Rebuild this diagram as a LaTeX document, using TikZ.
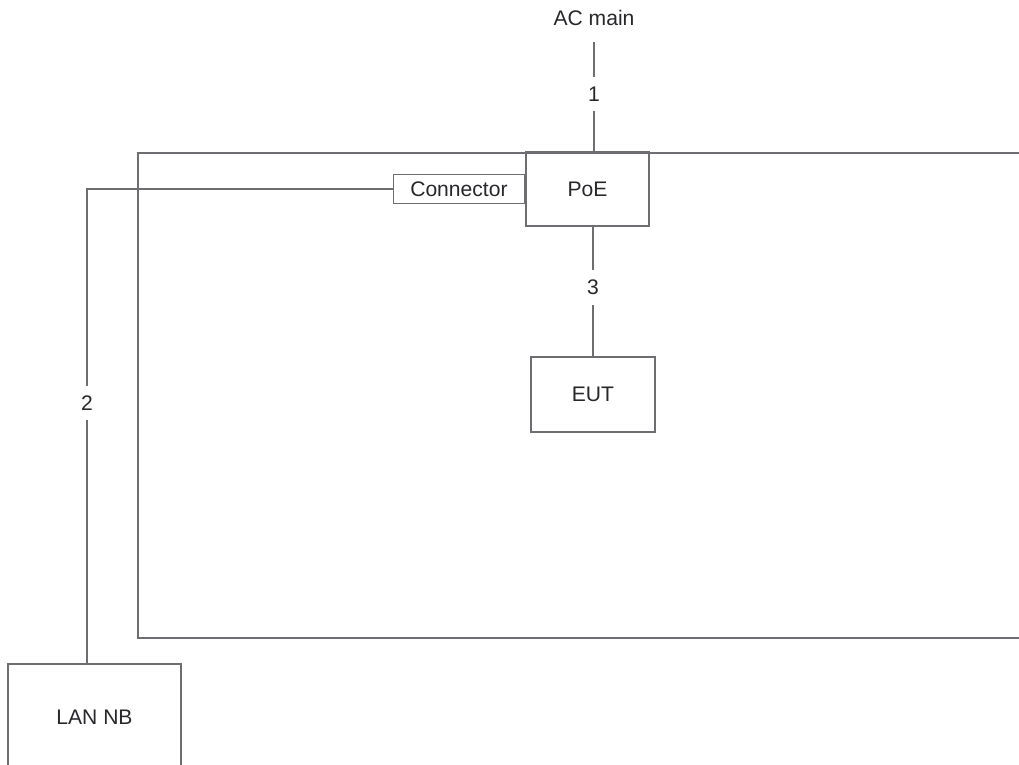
\documentclass[tikz,border=0pt]{standalone}
\usepackage{fontspec}
\setmainfont{Liberation Sans}
\usetikzlibrary{positioning,calc}
\definecolor{LineGray}{RGB}{110,110,114}
\definecolor{TextGray}{RGB}{40,40,44}

\begin{document}
\begin{tikzpicture}[
    box/.style={draw=LineGray, line width=0.9pt, align=center, text=TextGray,
                font=\fontsize{12}{14}\selectfont},
    link/.style={draw=LineGray, line width=0.9pt},
    lbl/.style={fill=white, text=TextGray, inner xsep=2pt, inner ysep=5.5pt,
                font=\fontsize{12}{14}\selectfont},
    node distance=0pt
]
    \clip (0,0) rectangle (20.38,-15.3);
    % test room (right side runs off the page)
    \node[link, anchor=north west, minimum width=18.1cm, minimum height=9.7cm] (room) at (2.74,-3.04) {};
    \node[box, minimum width=2.46cm, minimum height=1.48cm] (poe) at (11.75,-3.78) {PoE};
    \node[box, left=of poe, minimum width=2.62cm, minimum height=0.58cm] (conn) {Connector};
    \node[box, minimum width=2.48cm, minimum height=1.5cm] (eut) at (11.86,-7.89) {EUT};
    \node[box, minimum width=3.46cm, minimum height=2.12cm] (lan) at (1.89,-14.34) {LAN NB};
    \node[text=TextGray, font=\fontsize{12}{14}\selectfont] (ac) at (11.88,-0.36) {AC main};
    % cables
    \draw[link, shorten <=0.21cm] (ac.south) -- node[lbl, pos=0.52] {1} (ac.south |- poe.north);
    \draw[link] (conn.west) -| node[lbl, pos=0.726] {2} (lan.north -| 1.74,0);
    \draw[link] (eut.north |- poe.south) -- node[lbl, pos=0.47] {3} (eut.north);
\end{tikzpicture}
\end{document}
